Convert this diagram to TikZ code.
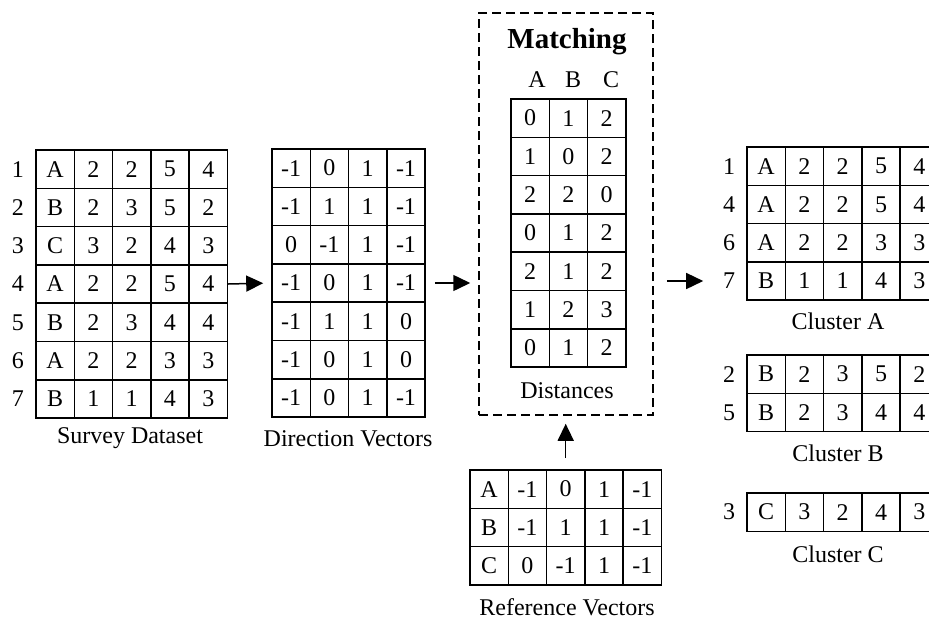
\documentclass[tikz,border=0pt]{standalone}
\usepackage{fontspec}
\setmainfont{Liberation Serif}
\usetikzlibrary{arrows.meta,positioning,matrix}

\tikzset{
  cell/.style={draw,line width=1.5pt,minimum width=38.3pt,
    minimum height=38.3pt,inner sep=0pt,anchor=center},
  tablegrid/.style={matrix of nodes,nodes={cell},column sep=-1.5pt,
    row sep=-1.5pt,inner sep=0pt,anchor=north west},
  flow/.style={-{Triangle[length=17pt,width=16pt]},line width=1.5pt},
  rownum/.style={inner sep=0pt},
  matchbox/.style={draw,line width=1.5pt,dash pattern=on 9pt off 5pt,
    minimum width=174pt,minimum height=402pt}
}

\begin{document}
\begin{tikzpicture}[x=1pt,y=-1pt,font=\fontsize{24}{28}\selectfont]
    \useasboundingbox (0,0) rectangle (929,619);
    % survey data
    \matrix (survey) [tablegrid] at (35,149) {
      A & 2 & 2 & 5 & 4 \\
      B & 2 & 3 & 5 & 2 \\
      C & 3 & 2 & 4 & 3 \\
      A & 2 & 2 & 5 & 4 \\
      B & 2 & 3 & 4 & 4 \\
      A & 2 & 2 & 3 & 3 \\
      B & 1 & 1 & 4 & 3 \\
    };
    \foreach \i in {1,...,7}
      \node[rownum,left=11pt of survey-\i-1] (sn\i) {\i};
    \node (survlbl) at (130,438) {Survey Dataset};
    % direction vectors
    \matrix (dirvec) [tablegrid] at (271,148) {
      -1 & 0 & 1 & -1 \\
      -1 & 1 & 1 & -1 \\
      0 & -1 & 1 & -1 \\
      -1 & 0 & 1 & -1 \\
      -1 & 1 & 1 & 0 \\
      -1 & 0 & 1 & 0 \\
      -1 & 0 & 1 & -1 \\
    };
    \node (dirlbl) at (348,439) {Direction Vectors};
    % matching
    \node[matchbox] (match) at (566,214) {};
    \node (matchttl) at (567,42)
      {\fontsize{29}{33}\selectfont\bfseries Matching};
    \node (hA) at (537,80) {A};
    \node (hB) at (573,80) {B};
    \node (hC) at (611,80) {C};
    \matrix (dist) [tablegrid] at (510,98) {
      0 & 1 & 2 \\
      1 & 0 & 2 \\
      2 & 2 & 0 \\
      0 & 1 & 2 \\
      2 & 1 & 2 \\
      1 & 2 & 3 \\
      0 & 1 & 2 \\
    };
    \node (distlbl) at (567,391) {Distances};
    % reference vectors
    \matrix (ref) [tablegrid] at (469,469) {
      A & -1 & 0 & 1 & -1 \\
      B & -1 & 1 & 1 & -1 \\
      C & 0 & -1 & 1 & -1 \\
    };
    \node (reflbl) at (567,607) {Reference Vectors};
    % clusters
    \matrix (clA) [tablegrid] at (746,146) {
      A & 2 & 2 & 5 & 4 \\
      A & 2 & 2 & 5 & 4 \\
      A & 2 & 2 & 3 & 3 \\
      B & 1 & 1 & 4 & 3 \\
    };
    \foreach \n [count=\i] in {1,4,6,7}
      \node[rownum,left=11pt of clA-\i-1] (ca\i) {\n};
    \node (clAlbl) at (838,321) {Cluster A};
    \matrix (clB) [tablegrid] at (746,354) {
      B & 2 & 3 & 5 & 2 \\
      B & 2 & 3 & 4 & 4 \\
    };
    \foreach \n [count=\i] in {2,5}
      \node[rownum,left=11pt of clB-\i-1] (cb\i) {\n};
    \node (clBlbl) at (838,453) {Cluster B};
    \matrix (clC) [tablegrid] at (746,492) {
      C & 3 & 2 & 4 & 3 \\
    };
    \node[rownum,left=11pt of clC-1-1] (cc1) {3};
    \node (clClbl) at (838,554) {Cluster C};
    % arrows
    \draw[flow,shorten >=8pt] (survey-4-5.east) -- (dirvec-4-1.west);
    \draw[flow,shorten <=9pt,shorten >=8pt]
      (dirvec-4-4.east) -- (match.west |- dirvec-4-4);
    \draw[flow,shorten <=13pt,shorten >=43pt]
      (match.east |- clA-4-1) -- (clA-4-1.west);
    \draw[flow,shorten <=11pt,shorten >=8pt]
      (ref-1-3.north) -- (ref-1-3.north |- match.south);
  \end{tikzpicture}
\end{document}
